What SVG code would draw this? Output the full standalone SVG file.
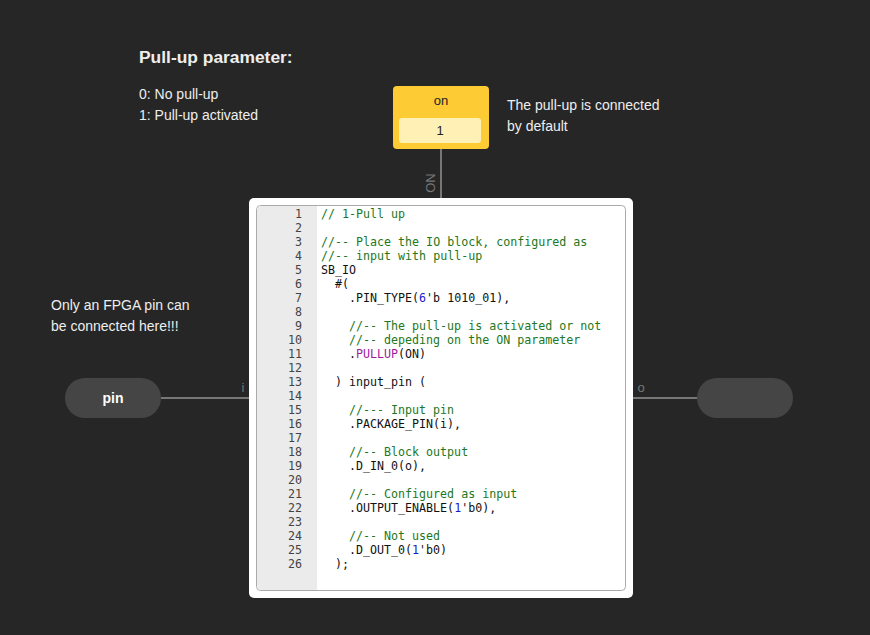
<svg xmlns="http://www.w3.org/2000/svg" width="870" height="635" viewBox="0 0 870 635">
<style>
.lbl{font-family:"Liberation Sans",Arial,sans-serif;font-size:14px;fill:#eeeeee}
.title{font-family:"Liberation Sans",Arial,sans-serif;font-size:17.4px;font-weight:bold;fill:#eeeeee}
.port{font-family:"Liberation Sans",Arial,sans-serif;font-size:13px;fill:#777777}
.wire{stroke:#777777;stroke-width:2;fill:none}
.code{font-family:"DejaVu Sans Mono",monospace;font-size:11.65px;fill:#111111}
.ln{font-family:"DejaVu Sans Mono",monospace;font-size:11.65px;fill:#444444;text-anchor:end}
.c{fill:#227722}
.n{fill:#1a1acc}
.k{fill:#a0189e}
</style>
<rect x="0" y="0" width="870" height="635" fill="#262626"/>

<g id="notes">
<text class="title" x="139" y="63">Pull-up parameter:</text>
<text class="lbl" x="139" y="99">0: No pull-up</text>
<text class="lbl" x="139" y="120">1: Pull-up activated</text>
<text class="lbl" x="507" y="110">The pull-up is connected</text>
<text class="lbl" x="507" y="131">by default</text>
<text class="lbl" x="51" y="310">Only an FPGA pin can</text>
<text class="lbl" x="51" y="331">be connected here!!!</text>
</g>

<g id="connectors">
<line class="wire" x1="441" y1="149" x2="441" y2="198"/>
<text class="port" transform="translate(435,183) rotate(-90)" text-anchor="middle">ON</text>
<line class="wire" x1="161" y1="398" x2="249" y2="398"/>
<text class="port" x="243" y="392" text-anchor="middle">i</text>
<line class="wire" x1="633" y1="398" x2="697" y2="398"/>
<text class="port" x="641" y="392" text-anchor="middle">o</text>
</g>

<g id="param-on">
<rect x="393" y="86" width="96" height="63" rx="4" fill="#fdcb33"/>
<text x="441" y="105" text-anchor="middle" style="font-family:'Liberation Sans',Arial,sans-serif;font-size:13px;fill:#222">on</text>
<rect x="399" y="118" width="82" height="25" rx="3" fill="#fff0b5"/>
<text x="440" y="135" text-anchor="middle" style="font-family:'Liberation Sans',Arial,sans-serif;font-size:13px;fill:#222">1</text>
</g>

<g id="pin-in">
<rect x="65" y="378" width="96" height="40" rx="20" fill="#454545"/>
<text x="113" y="403" text-anchor="middle" style="font-family:'Liberation Sans',Arial,sans-serif;font-size:14px;font-weight:bold;fill:#ffffff">pin</text>
</g>

<g id="pin-out">
<rect x="697" y="378" width="96" height="40" rx="20" fill="#454545"/>
</g>

<g id="code-block">
<rect x="249" y="198" width="384" height="400" rx="5" fill="#ffffff"/>
<rect x="256.5" y="205.5" width="369" height="385" rx="4" fill="#ffffff" stroke="#aaaaaa" stroke-width="1"/>
<path d="M257,210 a4,4 0 0 1 4,-4 H317 V590 H261 a4,4 0 0 1 -4,-4 Z" fill="#ebebeb"/>
<g class="ln">
<text x="302" y="217.5">1</text>
<text x="302" y="231.5">2</text>
<text x="302" y="245.5">3</text>
<text x="302" y="259.5">4</text>
<text x="302" y="273.5">5</text>
<text x="302" y="287.5">6</text>
<text x="302" y="301.5">7</text>
<text x="302" y="315.5">8</text>
<text x="302" y="329.5">9</text>
<text x="302" y="343.5">10</text>
<text x="302" y="357.5">11</text>
<text x="302" y="371.5">12</text>
<text x="302" y="385.5">13</text>
<text x="302" y="399.5">14</text>
<text x="302" y="413.5">15</text>
<text x="302" y="427.5">16</text>
<text x="302" y="441.5">17</text>
<text x="302" y="455.5">18</text>
<text x="302" y="469.5">19</text>
<text x="302" y="483.5">20</text>
<text x="302" y="497.5">21</text>
<text x="302" y="511.5">22</text>
<text x="302" y="525.5">23</text>
<text x="302" y="539.5">24</text>
<text x="302" y="553.5">25</text>
<text x="302" y="567.5">26</text>
</g>
<g class="code">
<text x="321" y="217.5"><tspan class="c">// 1-Pull up</tspan></text>
<text x="321" y="245.5"><tspan class="c">//-- Place the IO block, configured as</tspan></text>
<text x="321" y="259.5"><tspan class="c">//-- input with pull-up</tspan></text>
<text x="321" y="273.5">SB_IO</text>
<text x="335" y="287.5">#(</text>
<text x="349" y="301.5">.PIN_TYPE(<tspan class="n">6</tspan>'b 1010_01),</text>
<text x="349" y="329.5"><tspan class="c">//-- The pull-up is activated or not</tspan></text>
<text x="349" y="343.5"><tspan class="c">//-- depeding on the ON parameter</tspan></text>
<text x="349" y="357.5">.<tspan class="k">PULLUP</tspan>(ON)</text>
<text x="335" y="385.5">) input_pin (</text>
<text x="349" y="413.5"><tspan class="c">//--- Input pin</tspan></text>
<text x="349" y="427.5">.PACKAGE_PIN(i),</text>
<text x="349" y="455.5"><tspan class="c">//-- Block output</tspan></text>
<text x="349" y="469.5">.D_IN_0(o),</text>
<text x="349" y="497.5"><tspan class="c">//-- Configured as input</tspan></text>
<text x="349" y="511.5">.OUTPUT_ENABLE(<tspan class="n">1</tspan>'b0),</text>
<text x="349" y="539.5"><tspan class="c">//-- Not used</tspan></text>
<text x="349" y="553.5">.D_OUT_0(<tspan class="n">1</tspan>'b0)</text>
<text x="335" y="567.5">);</text>
</g>
</g>
</svg>
